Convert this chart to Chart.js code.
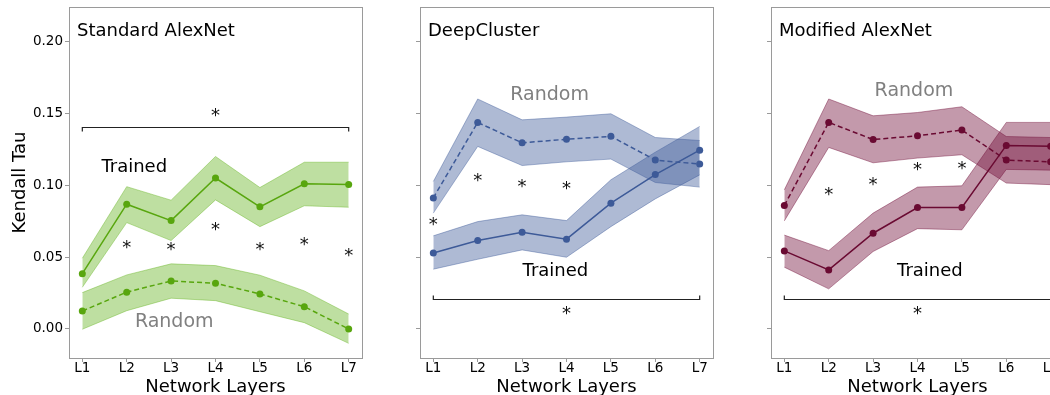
<!DOCTYPE html>
<html>
<head>
<meta charset="utf-8">
<script src="https://cdn.jsdelivr.net/npm/chart.js@4/dist/chart.umd.min.js"></script>
<style>
  html, body { margin: 0; padding: 0; background: #fff; overflow: hidden; }
  #wrap { position: relative; width: 1050px; height: 395px; overflow: hidden; }
  canvas { position: absolute; top: 0; }
</style>
</head>
<body>
<div id="wrap">
  <canvas id="c1" width="375" height="400" style="left:0px"></canvas>
  <canvas id="c2" width="335" height="400" style="left:390px"></canvas>
  <canvas id="c3" width="335" height="400" style="left:741px"></canvas>
</div>
<script>
const layers = ['L1', 'L2', 'L3', 'L4', 'L5', 'L6', 'L7'];
const yTicks = [0, 0.05, 0.10, 0.15, 0.20];

// Standard AlexNet
const alexTrained   = [0.0385, 0.0868, 0.0754, 0.105, 0.085, 0.101, 0.1005];
const alexTrainedHi = [0.0492, 0.099, 0.0896, 0.120, 0.0984, 0.116, 0.116];
const alexTrainedLo = [0.029, 0.074, 0.0615, 0.0898, 0.0712, 0.0857, 0.0847];
const alexRandom    = [0.0125, 0.0256, 0.0334, 0.0318, 0.0244, 0.0155, 0.000];
const alexRandomHi  = [0.0253, 0.0376, 0.0453, 0.0441, 0.0374, 0.0265, 0.0104];
const alexRandomLo  = [-0.0002, 0.0127, 0.0214, 0.0197, 0.012, 0.0044, -0.010];

// DeepCluster
const deepRandom    = [0.0912, 0.1437, 0.1295, 0.132, 0.134, 0.1175, 0.1147];
const deepRandomHi  = [0.1026, 0.160, 0.1455, 0.1474, 0.1497, 0.1332, 0.1311];
const deepRandomLo  = [0.0806, 0.127, 0.1137, 0.1163, 0.1182, 0.1019, 0.0987];
const deepTrained   = [0.0529, 0.0615, 0.0673, 0.0625, 0.0875, 0.1074, 0.1244];
const deepTrainedHi = [0.0648, 0.0747, 0.0794, 0.0754, 0.1038, 0.123, 0.1409];
const deepTrainedLo = [0.0416, 0.0485, 0.055, 0.0499, 0.0712, 0.0905, 0.1072];

// Modified AlexNet
const modRandom    = [0.0859, 0.1437, 0.1318, 0.1344, 0.1384, 0.1175, 0.1163];
const modRandomHi  = [0.0968, 0.160, 0.1483, 0.1506, 0.1546, 0.1339, 0.1332];
const modRandomLo  = [0.0752, 0.1263, 0.1156, 0.1189, 0.1212, 0.1015, 0.1004];
const modTrained   = [0.0543, 0.0411, 0.0666, 0.0845, 0.0845, 0.1277, 0.1272];
const modTrainedHi = [0.0653, 0.0545, 0.0806, 0.0987, 0.0996, 0.1437, 0.1437];
const modTrainedLo = [0.043, 0.0279, 0.0539, 0.0698, 0.069, 0.111, 0.1105];

// significance stars: [layer index, value]
const alexStars = [[1, 0.0573], [2, 0.0557], [3, 0.0698], [4, 0.0559], [5, 0.0592], [6, 0.0515]];
const deepStars = [[0, 0.0731], [1, 0.1038], [2, 0.0998], [3, 0.0984]];
const modStars  = [[1, 0.0938], [2, 0.1008], [3, 0.1112], [4, 0.1123]];
const alexBracket = 0.1403;
const deepBracket = 0.0209;
const modBracket  = 0.0207;
const alexBracketStar = 0.149;
const deepBracketStar = 0.0109;
const modBracketStar  = 0.0109;
const alexLabels = [['Trained', 1.17, 0.1128], ['Random', 2.07, 0.0049]];
const deepLabels = [['Random', 2.62, 0.1625], ['Trained', 2.75, 0.0404]];
const modLabels  = [['Random', 2.92, 0.1653], ['Trained', 3.28, 0.0399]];

const FONT = 'DejaVu Sans';
const frameColor = '#9a9a9a';

const pts = arr => arr.map((v, i) => ({ x: i, y: v }));

function bandSets(hi, lo, color) {
    return [
        { data: pts(hi), fill: '+1', backgroundColor: color, borderColor: color, borderWidth: 1, pointRadius: 0, order: 10 },
        { data: pts(lo), fill: false, borderColor: color, borderWidth: 1, pointRadius: 0, order: 10 }
    ];
}

function lineSet(values, color, dashed) {
    return {
        data: pts(values), fill: false, borderColor: color, backgroundColor: color,
        borderWidth: 1.5, borderDash: dashed ? [5, 3] : [], pointRadius: 3.5,
        pointBorderWidth: 0, order: 1
    };
}

const notesPlugin = {
    id: 'notes',
    afterDraw(chart, args, opts) {
        const ctx = chart.ctx;
        const a = chart.chartArea;
        const xs = chart.scales.x, ys = chart.scales.y;
        ctx.save();
        ctx.strokeStyle = frameColor;
        ctx.lineWidth = 1;
        ctx.strokeRect(Math.round(a.left) + 0.5, Math.round(a.top) + 0.5, Math.round(a.right - a.left), Math.round(a.bottom - a.top));

        ctx.fillStyle = '#000';
        ctx.font = '18px "' + FONT + '"';
        ctx.textAlign = 'left';
        ctx.textBaseline = 'alphabetic';
        ctx.fillText(opts.title, a.left + 8, a.top + 29);

        // bracket
        const by = Math.round(ys.getPixelForValue(opts.bracket)) + 0.5;
        const bx0 = xs.getPixelForValue(0), bx1 = xs.getPixelForValue(6);
        const d = opts.bracketUp ? -4 : 4;
        ctx.strokeStyle = '#222';
        ctx.lineWidth = 1.2;
        ctx.beginPath();
        ctx.moveTo(bx0, by + d);
        ctx.lineTo(bx0, by);
        ctx.lineTo(bx1, by);
        ctx.lineTo(bx1, by + d);
        ctx.stroke();

        // stars
        ctx.fillStyle = '#111';
        ctx.font = '18px "' + FONT + '"';
        ctx.textAlign = 'center';
        const star = (i, v) => ctx.fillText('*', xs.getPixelForValue(i), ys.getPixelForValue(v) + 6);
        opts.stars.forEach(s => star(s[0], s[1]));
        star(3, opts.bracketStar);

        // labels
        ctx.textBaseline = 'middle';
        opts.labels.forEach(l => {
            ctx.fillStyle = l[0] === 'Random' ? '#808080' : '#000';
            ctx.font = (l[0] === 'Random' ? '19px' : '18px') + ' "' + FONT + '"';
            ctx.fillText(l[0], xs.getPixelForValue(l[1]), ys.getPixelForValue(l[2]));
        });
        ctx.restore();
    }
};

function makeChart(id, datasets, notes, yAxisWidth, rightPad, showYLabels) {
    return new Chart(document.getElementById(id), {
        type: 'line',
        data: { datasets: datasets },
        options: {
            responsive: false,
            animation: false,
            devicePixelRatio: 1,
            layout: { padding: { top: 7, right: rightPad, bottom: 0, left: 0 } },
            plugins: { legend: { display: false }, tooltip: { enabled: false }, notes: notes },
            elements: { line: { tension: 0 } },
            scales: {
                x: {
                    type: 'linear', min: -0.3, max: 6.3,
                    afterBuildTicks: s => { s.ticks = layers.map((l, i) => ({ value: i })); },
                    afterFit: s => { s.height = 42; s.paddingLeft = 0; s.paddingRight = 0; },
                    ticks: { callback: v => layers[v], font: { family: FONT, size: 13.5 }, color: '#000', padding: -2, maxRotation: 0, autoSkip: false },
                    grid: { drawOnChartArea: false, tickLength: 4, color: frameColor },
                    border: { display: false },
                    title: { display: true, text: 'Network Layers', font: { family: FONT, size: 18 }, color: '#000', padding: { top: 0, bottom: 2 } }
                },
                y: {
                    min: -0.0202, max: 0.224,
                    afterBuildTicks: s => { s.ticks = yTicks.map(v => ({ value: v })); },
                    afterFit: s => { s.width = yAxisWidth; s.paddingTop = 0; s.paddingBottom = 0; },
                    ticks: { callback: v => showYLabels ? v.toFixed(2) : '', font: { family: FONT, size: 13.5 }, color: '#000', padding: 2 },
                    grid: { drawOnChartArea: false, tickLength: 4, color: frameColor },
                    border: { display: false },
                    title: { display: showYLabels, text: 'Kendall Tau', font: { family: FONT, size: 18 }, color: '#000', padding: { top: 10, bottom: 0 } }
                }
            }
        },
        plugins: [notesPlugin]
    });
}

const green = '#58a60e', greenBand = 'rgba(100,178,30,0.42)';
const blue = '#3d5a98', blueBand = 'rgba(61,90,152,0.42)';
const maroon = '#6a0a32', maroonBand = 'rgba(112,12,56,0.42)';

makeChart('c1', [
    lineSet(alexTrained, green, false),
    lineSet(alexRandom, green, true),
    ...bandSets(alexTrainedHi, alexTrainedLo, greenBand),
    ...bandSets(alexRandomHi, alexRandomLo, greenBand)
], { title: 'Standard AlexNet', stars: alexStars, bracket: alexBracket, bracketUp: false, bracketStar: alexBracketStar, labels: alexLabels }, 69, 13, true);

makeChart('c2', [
    lineSet(deepTrained, blue, false),
    lineSet(deepRandom, blue, true),
    ...bandSets(deepTrainedHi, deepTrainedLo, blueBand),
    ...bandSets(deepRandomHi, deepRandomLo, blueBand)
], { title: 'DeepCluster', stars: deepStars, bracket: deepBracket, bracketUp: true, bracketStar: deepBracketStar, labels: deepLabels }, 30, 12, false);

makeChart('c3', [
    lineSet(modTrained, maroon, false),
    lineSet(modRandom, maroon, true),
    ...bandSets(modTrainedHi, modTrainedLo, maroonBand),
    ...bandSets(modRandomHi, modRandomLo, maroonBand)
], { title: 'Modified AlexNet', stars: modStars, bracket: modBracket, bracketUp: true, bracketStar: modBracketStar, labels: modLabels }, 30, 12, false);
</script>
</body>
</html>
